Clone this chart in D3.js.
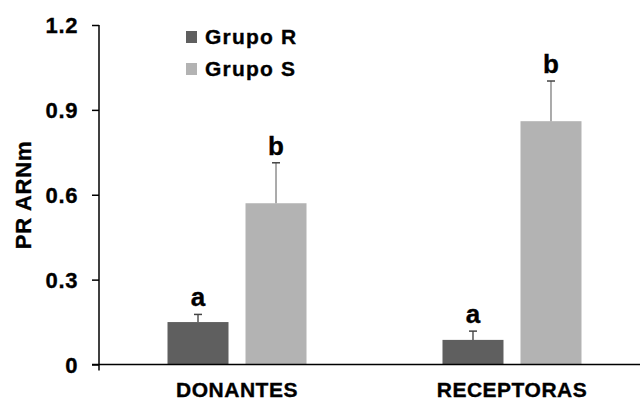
<!DOCTYPE html>
<html>
<head>
<meta charset="utf-8">
<script src="https://cdn.jsdelivr.net/npm/d3@7"></script>
<style>
  html, body { margin: 0; padding: 0; background: #fff; }
  svg { display: block; font-family: "Liberation Sans", Arial, sans-serif; font-weight: bold; }
  svg text { stroke: #000; stroke-width: 0.35px; }
</style>
</head>
<body>
<svg id="chart" width="640" height="401"></svg>
<script>
// Categories, groups and values
const categories = ["DONANTES", "RECEPTORAS"];
const groups = ["Grupo R", "Grupo S"];
const valuesR = [0.15, 0.087];
const valuesS = [0.57, 0.86];
const errorsR = [0.027, 0.031];
const errorsS = [0.143, 0.142];
const lettersR = ["a", "a"];
const lettersS = ["b", "b"];
const yTicks = [0, 0.3, 0.6, 0.9, 1.2];
const yTickLabels = ["0", "0.3", "0.6", "0.9", "1.2"];
const yTitle = "PR ARNm";

const colors = { "Grupo R": "#5f5f5f", "Grupo S": "#b3b3b3" };
const errColors = { "Grupo R": "#555555", "Grupo S": "#8f8f8f" };

const svg = d3.select("#chart");

const y = d3.scaleLinear().domain([0, 1.2]).range([364.5, 25]);
const x0 = d3.scaleBand().domain(categories).range([99.5, 649.5]).paddingInner(0.4945).paddingOuter(0.2473);
const x1 = d3.scaleBand().domain(groups).range([0, x0.bandwidth()]).paddingInner(0.218);

const rows = categories.map((c, i) => ({
  cat: c,
  items: [
    { g: "Grupo R", v: valuesR[i], e: errorsR[i], l: lettersR[i] },
    { g: "Grupo S", v: valuesS[i], e: errorsS[i], l: lettersS[i] }
  ]
}));

// Bars with upward error bars and significance letters
const groupSel = svg.append("g").selectAll("g").data(rows).join("g")
  .attr("transform", d => `translate(${x0(d.cat)},0)`);

groupSel.selectAll("rect").data(d => d.items).join("rect")
  .attr("x", d => x1(d.g))
  .attr("y", d => y(d.v))
  .attr("width", x1.bandwidth())
  .attr("height", d => y(0) - y(d.v))
  .attr("fill", d => colors[d.g]);

groupSel.selectAll("line.err").data(d => d.items).join("line")
  .attr("class", "err")
  .attr("x1", d => x1(d.g) + x1.bandwidth() / 2)
  .attr("x2", d => x1(d.g) + x1.bandwidth() / 2)
  .attr("y1", d => y(d.v))
  .attr("y2", d => y(d.v + d.e))
  .attr("stroke", d => errColors[d.g])
  .attr("stroke-width", 1.5);

groupSel.selectAll("line.cap").data(d => d.items).join("line")
  .attr("class", "cap")
  .attr("x1", d => x1(d.g) + x1.bandwidth() / 2 - 4)
  .attr("x2", d => x1(d.g) + x1.bandwidth() / 2 + 4)
  .attr("y1", d => y(d.v + d.e))
  .attr("y2", d => y(d.v + d.e))
  .attr("stroke", "#444")
  .attr("stroke-width", 1.5);

groupSel.selectAll("text.sig").data(d => d.items).join("text")
  .attr("class", "sig")
  .attr("x", d => x1(d.g) + x1.bandwidth() / 2)
  .attr("y", d => y(d.v + d.e) - 8)
  .attr("text-anchor", "middle")
  .attr("font-size", 26)
  .attr("fill", "#000")
  .text(d => d.l);

// Y axis
const yAxis = d3.axisLeft(y).tickValues(yTicks)
  .tickFormat((d, i) => yTickLabels[i])
  .tickSize(7).tickPadding(14).tickSizeOuter(0);
const gy = svg.append("g").attr("transform", "translate(99,0)").call(yAxis);
gy.select(".domain").attr("stroke", "#000").attr("stroke-width", 1.5).attr("d", `M0,${y(1.2)}V${y(0) + 6}`);
gy.selectAll(".tick line").attr("stroke", "#000").attr("stroke-width", 1.5);
gy.selectAll(".tick text").attr("font-size", 22).attr("fill", "#000")
  .attr("font-family", "Liberation Sans, Arial, sans-serif").attr("font-weight", "bold")
  .attr("letter-spacing", "0.6px").attr("dy", "0.36em");

// X axis baseline and category labels
const xAxis = d3.axisBottom(x0).tickSize(0).tickPadding(20);
const gx = svg.append("g").attr("transform", `translate(0,${y(0)})`).call(xAxis);
gx.select(".domain").attr("stroke", "#000").attr("stroke-width", 1.5).attr("d", "M92,0H640");
gx.selectAll(".tick text").attr("font-size", 21).attr("fill", "#000")
  .attr("font-family", "Liberation Sans, Arial, sans-serif").attr("font-weight", "bold")
  .attr("letter-spacing", "0.5px").attr("dy", "0.71em").attr("y", 17.5);

// Y axis title
svg.append("text")
  .attr("transform", `translate(31,195) rotate(-90)`)
  .attr("text-anchor", "middle")
  .attr("font-size", 22)
  .attr("letter-spacing", "0.8px")
  .attr("fill", "#000")
  .text(yTitle);

// Legend
const legend = svg.append("g").selectAll("g").data(groups).join("g")
  .attr("transform", (d, i) => `translate(186,${31 + i * 32})`);
legend.append("rect").attr("width", 11).attr("height", 12).attr("fill", d => colors[d]).attr("stroke", "none");
legend.append("text").attr("x", 19).attr("y", 12.5)
  .attr("font-size", 21).attr("letter-spacing", "1.2px").attr("fill", "#000")
  .text(d => d);
</script>
</body>
</html>
